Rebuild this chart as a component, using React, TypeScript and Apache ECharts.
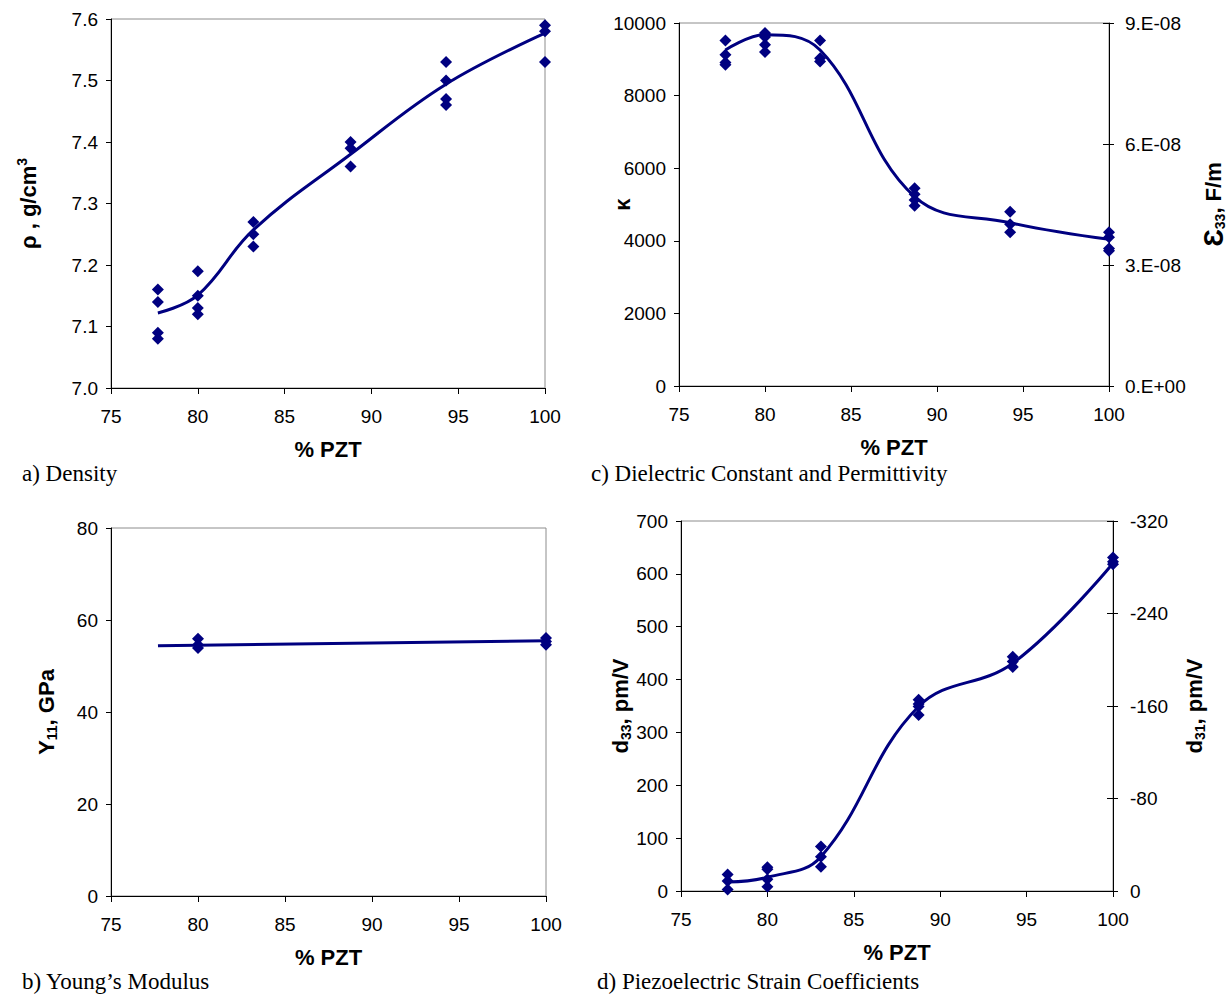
import React, { useEffect, useRef } from "react";
import * as echarts from "echarts";

// ---------- data ----------
// a) Density
const densityX = [77.7, 80, 83.2, 88.8, 94.3, 100];
const densityPts = [
  [7.16, 7.14, 7.09, 7.08],
  [7.19, 7.15, 7.13, 7.12],
  [7.27, 7.25, 7.23],
  [7.4, 7.39, 7.36],
  [7.53, 7.5, 7.47, 7.46],
  [7.59, 7.58, 7.53],
];
const densityFit = [7.122, 7.151, 7.257, 7.38, 7.494, 7.577];

// b) Young's modulus
const youngX = [80, 100];
const youngPts = [
  [55.9, 54.6, 53.9],
  [56.1, 55.3, 54.6],
];
const youngFitX = [77.7, 100];
const youngFit = [54.4, 55.5];

// c) Dielectric constant
const kappaX = [77.7, 80, 83.2, 88.7, 94.25, 100];
const kappaPts = [
  [9520, 9125, 8913, 8849],
  [9724, 9614, 9401, 9199],
  [9520, 9030, 8941],
  [5447, 5280, 5124, 4968],
  [4801, 4453, 4233],
  [4233, 4095, 3791, 3725],
];
const kappaFit = [9257, 9677, 9257, 5215, 4498, 4040];

// d) Piezoelectric strain coefficients
const d33X = [77.7, 80, 83.1, 88.75, 94.2, 100];
const d33Pts = [
  [31, 19, 3],
  [45, 41, 22, 8],
  [84, 65, 46],
  [362, 354, 349, 333],
  [443, 434, 424],
  [631, 623, 618],
];
const d33Fit = [17, 26, 65, 349, 431, 620];

const xTicks = { min: 75, max: 100, interval: 5 };

// ---------- helpers ----------
const pairs = (xs: number[], groups: number[][]) =>
  groups.flatMap((g, i) => g.map((v) => [xs[i], v]));
const line = (xs: number[], ys: number[]) => xs.map((x, i) => [x, ys[i]]);

const NAVY = "#000080";
const SANS = '"Liberation Sans", Arial, sans-serif';
const SERIF = '"Liberation Serif", "Times New Roman", serif';
const TICK_FONT = 19;
const NAME_FONT = 22;

const richName = {
  n: { fontSize: NAME_FONT, fontWeight: "bold", fontFamily: SANS, color: "#000", lineHeight: 26, verticalAlign: "middle" },
  sub: { fontSize: 14, fontWeight: "bold", fontFamily: SANS, color: "#000", lineHeight: 12, verticalAlign: "bottom" },
  sup: { fontSize: 14, fontWeight: "bold", fontFamily: SANS, color: "#000", lineHeight: 12, verticalAlign: "top" },
  e: { fontSize: 28, fontWeight: "bold", fontFamily: SANS, color: "#000", lineHeight: 28, verticalAlign: "middle" },
};

const axisLine = { show: true, lineStyle: { color: "#000", width: 1 } };
const axisLabel = { fontSize: TICK_FONT, color: "#000", fontFamily: SANS };
const plain = (v: number) => String(v);

function xAxis(gridIndex: number) {
  return {
    type: "value",
    gridIndex,
    ...xTicks,
    name: "% PZT",
    nameLocation: "middle",
    nameGap: 50,
    nameMoveOverlap: false,
    nameTextStyle: { fontSize: NAME_FONT, fontWeight: "bold", color: "#000", fontFamily: SANS },
    axisLine,
    axisTick: { show: true, length: 6, lineStyle: { color: "#000" } },
    axisLabel: { ...axisLabel, margin: 19, formatter: plain },
    splitLine: { show: false },
  };
}

function yAxis(gridIndex: number, extra: any) {
  return {
    type: "value",
    gridIndex,
    nameLocation: "middle",
    nameRotate: 90,
    nameMoveOverlap: false,
    nameTextStyle: { rich: richName, fontSize: NAME_FONT, fontWeight: "bold", color: "#000", fontFamily: SANS },
    axisLine,
    axisTick: { show: true, length: 5, lineStyle: { color: "#000" } },
    axisLabel: { ...axisLabel, margin: 13, formatter: plain },
    splitLine: { show: false },
    ...extra,
  };
}

function scatter(xi: number, yi: number, data: number[][]) {
  return {
    type: "scatter",
    xAxisIndex: xi,
    yAxisIndex: yi,
    data,
    symbol: "diamond",
    symbolSize: 12,
    itemStyle: { color: NAVY, opacity: 1 },
    z: 3,
  };
}

function fit(xi: number, yi: number, data: number[][]) {
  return {
    type: "line",
    xAxisIndex: xi,
    yAxisIndex: yi,
    data,
    smooth: 0.4,
    showSymbol: false,
    symbol: "none",
    lineStyle: { color: NAVY, width: 3 },
    z: 2,
  };
}

const gridBase = { show: true, borderColor: "#8c8c8c", borderWidth: 1, backgroundColor: "transparent", outerBoundsMode: "none", containLabel: false };

function caption(text: string, left: number, top: number) {
  return {
    type: "text",
    left,
    top,
    style: { text, font: `23px ${SERIF}`, fill: "#000" },
  };
}

export default function App() {
  const ref = useRef<HTMLDivElement>(null);

  useEffect(() => {
    if (!ref.current) return;
    const chart = echarts.init(ref.current, undefined, { renderer: "svg" });
    const option: any = {
      animation: false,
      backgroundColor: "#fff",
      grid: [
        { ...gridBase, left: 111, top: 19, width: 434, height: 369 },
        { ...gridBase, left: 111, top: 528, width: 435, height: 368 },
        { ...gridBase, left: 679, top: 23, width: 430, height: 363 },
        { ...gridBase, left: 681, top: 521, width: 432, height: 370 },
      ],
      xAxis: [xAxis(0), xAxis(1), xAxis(2), xAxis(3)],
      yAxis: [
        yAxis(0, {
          min: 7.0, max: 7.6, interval: 0.1,
          name: "{n|ρ , g/cm}{sup|3}", nameGap: 70,
          axisLabel: { ...axisLabel, margin: 13, formatter: (v: number) => v.toFixed(1) },
        }),
        yAxis(1, { min: 0, max: 80, interval: 20, name: "{n|Y}{sub|11}{n|, GPa}", nameGap: 52 }),
        yAxis(2, { min: 0, max: 10000, interval: 2000, name: "{n|κ}", nameGap: 44 }),
        yAxis(2, {
          position: "right", min: 0, max: 9, interval: 3,
          name: "{e|Ɛ}{sub|33}{n|, F/m}", nameGap: 90,
          axisLabel: { ...axisLabel, margin: 16, formatter: (v: number) => (v === 0 ? "0.E+00" : `${v}.E-08`) },
        }),
        yAxis(3, { min: 0, max: 700, interval: 100, name: "{n|d}{sub|33}{n|, pm/V}", nameGap: 48 }),
        yAxis(3, {
          position: "right", min: -320, max: 0, interval: 80, inverse: true,
          name: "{n|d}{sub|31}{n|, pm/V}", nameGap: 68,
          axisLabel: { ...axisLabel, margin: 17, formatter: plain },
        }),
        // inner halves of the crossing ticks on the right axes
        yAxis(2, { position: "right", min: 0, max: 9, interval: 3, axisLine: { show: false }, axisLabel: { show: false }, axisTick: { show: true, inside: true, length: 6, lineStyle: { color: "#000" } } }),
        yAxis(3, { position: "right", min: -320, max: 0, interval: 80, inverse: true, axisLine: { show: false }, axisLabel: { show: false }, axisTick: { show: true, inside: true, length: 6, lineStyle: { color: "#000" } } }),
      ],
      series: [
        scatter(0, 0, pairs(densityX, densityPts)),
        fit(0, 0, line(densityX, densityFit)),
        scatter(1, 1, pairs(youngX, youngPts)),
        fit(1, 1, line(youngFitX, youngFit)),
        scatter(2, 2, pairs(kappaX, kappaPts)),
        fit(2, 2, line(kappaX, kappaFit)),
        scatter(3, 4, pairs(d33X, d33Pts)),
        fit(3, 4, line(d33X, d33Fit)),
      ],
      graphic: [
        caption("a) Density", 22, 462),
        caption("c) Dielectric Constant and Permittivity", 591, 462),
        caption("b) Young’s Modulus", 22, 970),
        caption("d) Piezoelectric Strain Coefficients", 597, 970),
      ],
    };
    chart.setOption(option);
    return () => chart.dispose();
  }, []);

  return (
    <div
      ref={ref}
      style={{ position: "absolute", left: 0, top: 0, width: 1228, height: 996, background: "#fff" }}
    />
  );
}
